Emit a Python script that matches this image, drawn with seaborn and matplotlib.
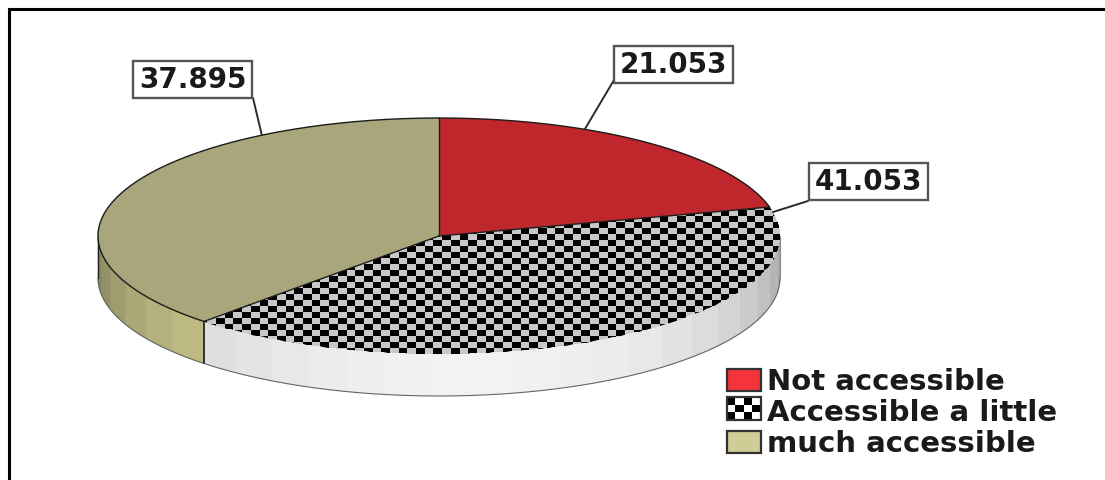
import numpy as np
import matplotlib
matplotlib.use("Agg")
import matplotlib.pyplot as plt
from matplotlib.patches import Polygon, Rectangle, Patch
from matplotlib.path import Path
from matplotlib.legend_handler import HandlerBase
from matplotlib.colors import ListedColormap, to_rgb
import seaborn as sns

# Survey shares, in percent
categories = ["Not accessible", "Accessible a little", "much accessible"]
shares = [21.053, 41.053, 37.895]
value_labels = ["21.053", "41.053", "37.895"]

# Slice colours: top face, legend swatch, rim base
top_colors = ["#bf272d", None, "#a9a67b"]
swatch_colors = ["#f4333a", None, "#d0cc95"]
rim_colors = ["#bfbb85", "#f2f2f2"]

sns.set_theme(style="white")
plt.rcParams["font.family"] = ["DejaVu Sans"]

W, H = 1105, 480
fig = plt.figure(figsize=(W / 100, H / 100), dpi=100, facecolor="white")
ax = fig.add_axes([0, 0, 1, 1])
ax.set_xlim(0, W)
ax.set_ylim(H, 0)
ax.axis("off")

# Ellipse geometry of the tilted disc
cx, cy, rx, ry, depth = 439, 236, 341, 118, 42


def rim(theta):
    """Point on the top ellipse for an angle measured clockwise from 12 o'clock."""
    return cx + rx * np.sin(theta), cy - ry * np.cos(theta)


edges = np.concatenate([[0], np.cumsum(shares) / sum(shares) * 2 * np.pi])


def wedge_xy(a, b):
    t = np.linspace(a, b, 200)
    x, y = rim(t)
    return np.r_[cx, x, cx], np.r_[cy, y, cy]


# Side wall, built from flat facets whose shade follows their direction
facet = np.radians(7.2)
for a, b, base in [(edges[1], edges[2], rim_colors[1]), (edges[2], edges[3], rim_colors[0])]:
    t_low, t_high = max(a, np.pi / 2), min(b, 3 * np.pi / 2)
    steps = max(1, int(round((t_high - t_low) / facet)))
    grid = np.linspace(t_low, t_high, steps + 1)
    for t0, t1 in zip(grid[:-1], grid[1:]):
        mid = (t0 + t1) / 2
        offset = (mid - np.radians(172)) / np.radians(90)
        shade = 1.0 - 0.40 * offset ** 2 if offset < 0 else 1.0 - 0.28 * offset ** 2
        if base == rim_colors[0]:
            shade = 1.0 - 0.33 * ((mid - edges[2]) / (3 * np.pi / 2 - edges[2])) ** 1.3
        color = np.clip(np.array(to_rgb(base)) * shade, 0, 1)
        tt = np.linspace(t0, t1, 12)
        x, y = rim(tt)
        ax.add_patch(Polygon(np.c_[np.r_[x, x[::-1]], np.r_[y, y[::-1] + depth]],
                             closed=True, fc=color, ec=color, lw=0.4, zorder=1))

# Outline of the wall: bottom curve, outer verticals, seam between slices
t = np.linspace(np.pi / 2, 3 * np.pi / 2, 300)
x, y = rim(t)
ax.plot(x, y + depth, color="#666666", lw=0.8, zorder=2)
for t_edge, col, width in [(np.pi / 2, "#888888", 0.8), (3 * np.pi / 2, "#222222", 0.9),
                           (edges[2], "#1a1a1a", 1.2)]:
    x0, y0 = rim(t_edge)
    ax.plot([x0, x0], [y0, y0 + depth], color=col, lw=width, zorder=2)

# Plain slices
for i in (0, 2):
    x, y = wedge_xy(edges[i], edges[i + 1])
    ax.fill(x, y, fc=top_colors[i], ec="none", zorder=3)

# Checker-filled slice
cell_w, cell_h = 8.7, 6.0
nx, ny = int(W / cell_w) + 1, int(H / cell_h) + 1
board = np.indices((ny, nx)).sum(axis=0) % 2
checker = ListedColormap(["#000000", "#c8c8c8"])
x, y = wedge_xy(edges[1], edges[2])
mesh = ax.pcolormesh(np.arange(nx + 1) * cell_w - 1.5, np.arange(ny + 1) * cell_h,
                     board, cmap=checker, zorder=3, rasterized=True)
mesh.set_clip_path(Path(np.c_[x, y]), ax.transData)
ax.set_xlim(0, W)
ax.set_ylim(H, 0)

# Radial boundaries, and the top outline over the plain slices
for theta in edges[:3]:
    x0, y0 = rim(theta)
    ax.plot([cx, x0], [cy, y0], color="#1c1c1c", lw=1.0, zorder=4)
for i in (0, 2):
    t = np.linspace(edges[i], edges[i + 1], 200)
    x, y = rim(t)
    ax.plot(x, y, color="#1c1c1c", lw=1.0, zorder=4)

# Value call-outs: rim angle of the leader, then box centre and leader end
anchor_deg = [25.3, 78.3, 328.7]
box_centres = [(673.5, 64.5), (868, 181), (192.5, 79)]
leader_ends = [(614, 80), (808, 201), (253, 98)]
for label, deg, (bx, by), (sx, sy) in zip(value_labels, anchor_deg, box_centres, leader_ends):
    ax0, ay0 = rim(np.radians(deg))
    ax.plot([ax0, sx], [ay0, sy], color="#2b2b2b", lw=1.4, zorder=5)
    ax.add_patch(Rectangle((bx - 59.5, by - 18.5), 119, 37, fc="white", ec="#555555", lw=1.7, zorder=6))
    ax.text(bx, by - 2.5, label, ha="center", va="center_baseline", fontsize=20, color="#1a1a1a",
            zorder=7, fontweight="bold")


# Legend swatch that repeats the checker pattern
class CheckerHandle(HandlerBase):
    def create_artists(self, legend, orig, x0, y0, width, height, fontsize, trans):
        artists = [Rectangle((x0, y0), width, height, fc="white", ec="none", transform=trans)]
        nx_s, ny_s = 4, 3
        for r in range(ny_s):
            for c in range(nx_s):
                if (r + c) % 2 == 0:
                    artists.append(Rectangle((x0 + c * width / nx_s, y0 + r * height / ny_s),
                                             width / nx_s, height / ny_s, fc="black", ec="none",
                                             transform=trans))
        artists.append(Rectangle((x0, y0), width, height, fc="none", ec="#333333", lw=1.6, transform=trans))
        return artists


handles = [Patch(fc=swatch_colors[0], ec="#333333", lw=1.6),
           Patch(fc="white", ec="#333333"),
           Patch(fc=swatch_colors[2], ec="#333333", lw=1.6)]
legend = ax.legend(handles, categories, loc="lower left", bbox_to_anchor=(727 / W, 1 - 458 / H),
                   frameon=False, fontsize=21, handlelength=1.16, handleheight=0.82,
                   handletextpad=0.2, labelspacing=0.1, borderpad=0, borderaxespad=0,
                   handler_map={handles[1]: CheckerHandle()})
for text in legend.get_texts():
    text.set_color("#1a1a1a")
    text.set_fontweight("bold")

# Page frame along the top and left
ax.plot([9, 9], [H, 9], color="black", lw=2.2, solid_capstyle="projecting", zorder=8)
ax.plot([9, W], [9, 9], color="black", lw=2.2, solid_capstyle="butt", zorder=8)

fig.savefig("out.png", dpi=100)
